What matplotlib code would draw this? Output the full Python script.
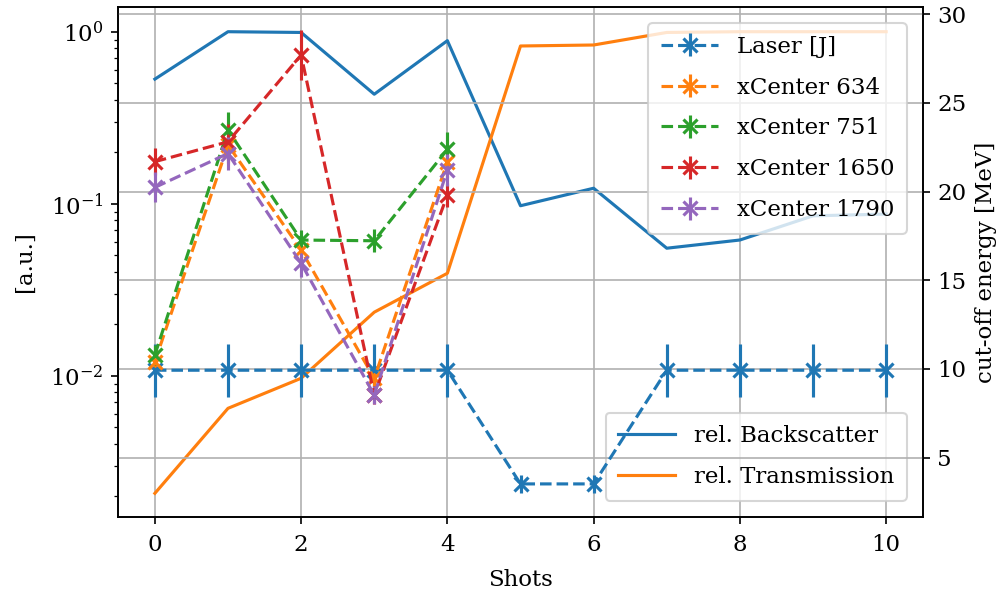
import numpy as np
import matplotlib
matplotlib.use("Agg")
import matplotlib.pyplot as plt

plt.rcParams.update({
    "font.family": "serif",
    "font.serif": ["DejaVu Serif"],
    "mathtext.fontset": "dejavuserif",
    "font.size": 11,
    "legend.handlelength": 2.5,
    "legend.labelspacing": 0.825,
    "legend.borderpad": 0.55,
    "legend.borderaxespad": 0.7,
})

nan = np.nan
shots = np.arange(11)

# relative signals (left, log axis)
backscatter = [0.53, 1.0, 0.99, 0.433, 0.887, 0.0973, 0.123, 0.0551, 0.0615, 0.085, 0.087]
transmission = [0.00207, 0.00646, 0.00966, 0.0234, 0.0394, 0.826, 0.837, 0.99, 1.0, 1.0, 1.0]

# laser energy and cut-off energies (right axis)
laser = [9.93, 9.93, 9.93, 9.93, 9.93, 3.52, 3.52, 9.93, 9.93, 9.93, 9.93]
laser_err = [1.49, 1.49, 1.49, 1.49, 1.49, 0.53, 0.53, 1.49, 1.49, 1.49, 1.49]

xc634 = [10.41, 22.63, 16.71, 9.47, 21.69, nan, nan, nan, nan, nan, nan]
xc634_err = [0.5, 1.0, 0.6, 0.5, 0.9, nan, nan, nan, nan, nan, nan]
xc751 = [10.79, 23.47, 17.27, 17.23, 22.38, nan, nan, nan, nan, nan, nan]
xc751_err = [0.55, 1.0, 0.56, 0.65, 1.0, nan, nan, nan, nan, nan, nan]
xc1650 = [21.69, 22.81, 27.70, 8.53, 19.81, nan, nan, nan, nan, nan, nan]
xc1650_err = [0.75, 1.0, 1.4, 0.5, 0.65, nan, nan, nan, nan, nan, nan]
xc1790 = [20.24, 22.15, 15.96, 8.53, 21.22, nan, nan, nan, nan, nan, nan]
xc1790_err = [0.85, 0.94, 0.8, 0.5, 0.9, nan, nan, nan, nan, nan, nan]

fig, ax1 = plt.subplots(figsize=(1006 / 150, 594 / 150), dpi=150)
fig.subplots_adjust(left=0.1176, right=0.9172, top=0.9882, bottom=0.1301)

ax1.plot(shots, backscatter, color="C0", lw=1.5, label="rel. Backscatter")
ax1.plot(shots, transmission, color="C1", lw=1.5, label="rel. Transmission")
ax1.set_yscale("log")
ax1.set_ylim(10 ** -2.820, 10 ** 0.1436)
ax1.set_xlim(-0.5, 10.5)
ax1.set_xlabel("Shots", labelpad=6)
ax1.set_ylabel("[a.u.]", labelpad=7)
ax1.tick_params(axis="x", pad=5)
ax1.grid(True, axis="x")
ax1.legend(loc="lower right")

ax2 = ax1.twinx()
series = [
    (laser, laser_err, "C0", "Laser [J]"),
    (xc634, xc634_err, "C1", "xCenter 634"),
    (xc751, xc751_err, "C2", "xCenter 751"),
    (xc1650, xc1650_err, "C3", "xCenter 1650"),
    (xc1790, xc1790_err, "C4", "xCenter 1790"),
]
for vals, errs, col, lab in series:
    ax2.errorbar(shots, vals, yerr=errs, color=col, ls="--", marker="x",
                 ms=6.5, mew=1.5, lw=1.5, label=lab)
ax2.set_ylim(1.67, 30.41)
ax2.set_ylabel("cut-off energy [MeV]")
ax2.grid(True, axis="y")
ax2.legend(loc="upper right")

fig.savefig("out.png", dpi=150)
